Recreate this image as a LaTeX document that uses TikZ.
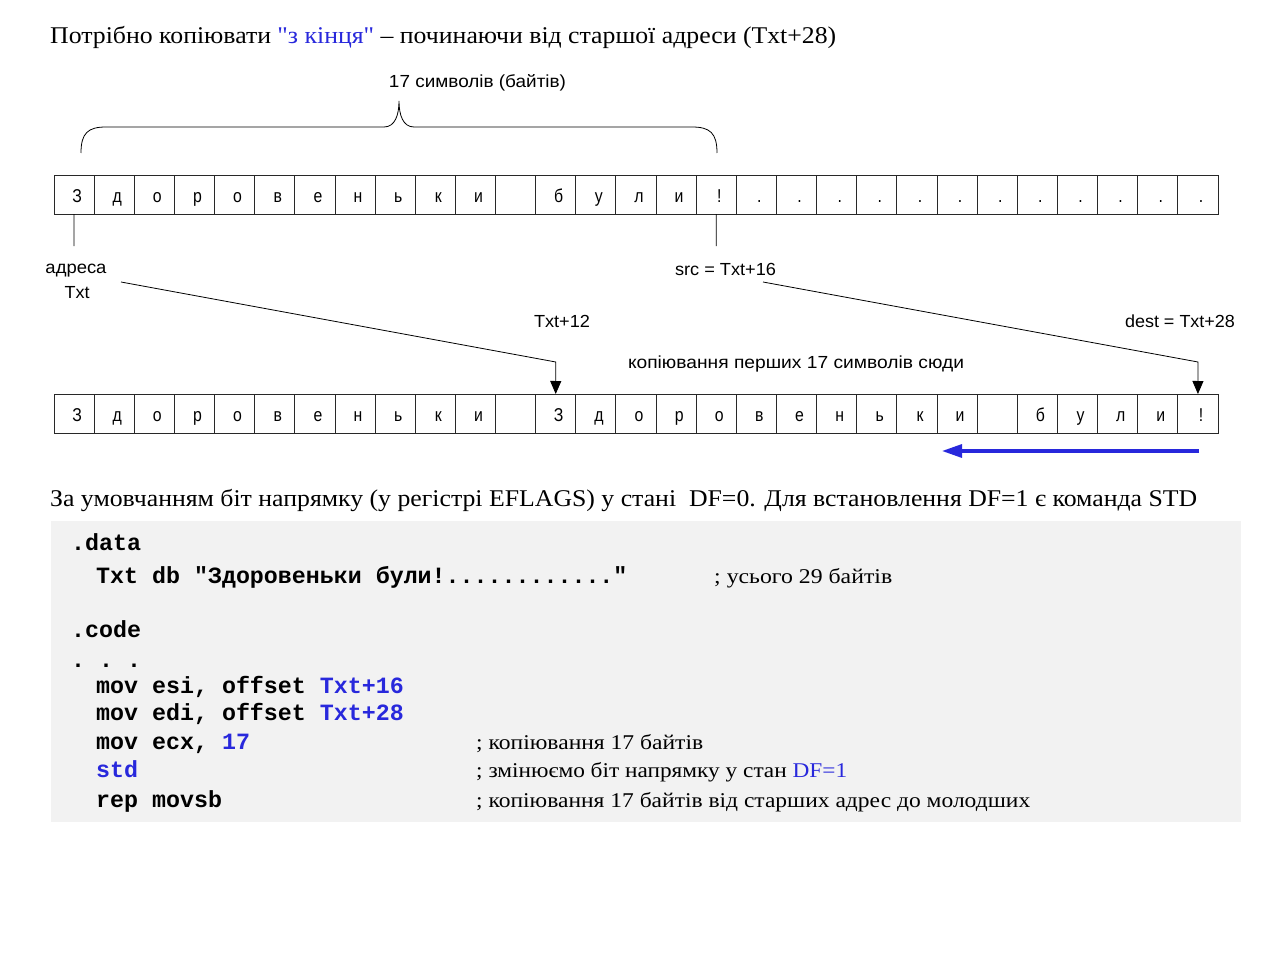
\documentclass[tikz,border=0pt]{standalone}
\usepackage{fontspec}
\setmainfont{Liberation Serif}
\newfontfamily\serq{Liberation Serif}
\newfontfamily\sansf{Liberation Sans}
\newfontfamily\monof{Liberation Mono}
\usetikzlibrary{arrows.meta}
\definecolor{cblue}{RGB}{40,40,220}
\definecolor{codebg}{RGB}{242,242,242}
\definecolor{cellline}{RGB}{40,40,40}
\newcommand{\fitw}[2]{\resizebox{#1pt}{\height}{#2}}
\newcommand{\cl}[1]{\hspace*{6pt}\scalebox{0.85}[1]{#1}}
\newcommand{\sq}{{\serq"}}
\begin{document}
\begin{tikzpicture}[x=1pt,y=-1pt,
  cell/.style={draw=cellline, line width=0.9pt, minimum width=40.138pt, minimum height=39pt,
    inner sep=0pt, outer sep=0pt, text height=15pt, text depth=0pt,
    font=\sansf\fontsize{18.6}{19}\selectfont},
  lbl/.style={inner sep=0pt, anchor=base, font=\sansf\fontsize{17.5}{18}\selectfont},
  ser/.style={inner sep=0pt, anchor=base west, font=\fontsize{24}{26}\selectfont},
  cmt/.style={inner sep=0pt, anchor=base west, font=\fontsize{21}{22}\selectfont},
  code/.style={inner sep=0pt, anchor=base west, font=\monof\bfseries\frenchspacing\fontsize{23.3}{24}\selectfont},
  conn/.style={draw=black, line width=0.8pt},
  tip/.style={-{Triangle[length=13pt,width=11pt]}}
]
\useasboundingbox (0,0) rectangle (1280,955);
\fill[white] (0,0) rectangle (1280,955);

% title
\node[ser] (title) at (50,44) {\fitw{786}{Потрібно копіювати \textcolor{cblue}{\sq з кінця\sq} -- починаючи від старшої адреси (Txt+28)}};

% brace
\draw[conn] (81,153) .. controls (81,133) and (88,127) .. (106,127) -- (384,127)
  .. controls (395,127) and (399,115) .. (399,101)
  .. controls (399,115) and (403,127) .. (414,127) -- (692,127)
  .. controls (710,127) and (717,133) .. (717,153);
\node[lbl] (cnt) at (477.5,88) {\fitw{177}{17 символів (байтів)}};

% row 1
\foreach \ch [count=\i from 0] in {З,д,о,р,о,в,е,н,ь,к,и,{},б,у,л,и,!,.,.,.,.,.,.,.,.,.,.,.,.}
  \node[cell] (r1c\i) at ({54+(\i+0.5)*40.138},194.5) {\cl{\ch}};

% row 2
\foreach \ch [count=\i from 0] in {З,д,о,р,о,в,е,н,ь,к,и,{},З,д,о,р,о,в,е,н,ь,к,и,{},б,у,л,и,!}
  \node[cell] (r2c\i) at ({54+(\i+0.5)*40.138},413.5) {\cl{\ch}};

% labels
\node[lbl] (adr) at (76,273) {\fitw{61}{адреса}};
\node[lbl] (txt) at (77,298) {\fitw{25}{Txt}};
\node[lbl] (src) at (725.5,275) {\fitw{101}{src = Txt+16}};
\node[lbl] (t12) at (562,327) {\fitw{56}{Txt+12}};
\node[lbl] (dst) at (1180,327) {\fitw{110}{dest = Txt+28}};
\node[lbl] (copy) at (796,368) {\fitw{336}{копіювання перших 17 символів сюди}};

% connectors
\coordinate (a0) at (74.07,246);
\coordinate (a16) at (716.3,246);
\draw[conn] (r1c0.south) -- (a0);
\draw[conn] (r1c16.south) -- (a16);

\coordinate (p1) at (121,282);
\coordinate (p2) at (555.8,362);
\draw[conn,tip] (p1) -- (p2) -- (r2c12.north);
\coordinate (q1) at (763,282);
\coordinate (q2) at (1198.0,362);
\draw[conn,tip] (q1) -- (q2) -- (r2c28.north);

% blue arrow
\coordinate (b1) at (1199,451);
\coordinate (b2) at (942,451);
\draw[cblue, line width=3.2pt, -{Triangle[length=20pt,width=13pt]}] (b1) -- (b2);

% line 2
\node[ser] (line2) at (50,506) {\fitw{1147}{За умовчанням біт напрямку (у регістрі EFLAGS) у стані\ \ DF=0. Для встановлення DF=1 є команда STD}};

% code box
\fill[codebg] (51,521) rectangle (1241,822);
\node[code] (c1) at (71,550) {.data};
\node[code] (c2) at (96,583) {Txt db "Здоровеньки були!............"};
\node[cmt]  (m2) at (714,583) {\fitw{178}{; усього 29 байтів}};
\node[code] (c3) at (71,637) {.code};
\node[code] (c4) at (71,667) {. . .};
\node[code] (c5) at (96,693) {mov esi, offset \textcolor{cblue}{Txt+16}};
\node[code] (c6) at (96,720) {mov edi, offset \textcolor{cblue}{Txt+28}};
\node[code] (c7) at (96,749) {mov ecx, \textcolor{cblue}{17}};
\node[cmt]  (m7) at (476,749) {\fitw{227}{; копіювання 17 байтів}};
\node[code] (c8) at (96,777) {\textcolor{cblue}{std}};
\node[cmt]  (m8) at (476,777) {\fitw{371}{; змінюємо біт напрямку у стан \textcolor{cblue}{DF=1}}};
\node[code] (c9) at (96,807) {rep movsb};
\node[cmt]  (m9) at (476,807) {\fitw{554}{; копіювання 17 байтів від старших адрес до молодших}};
\end{tikzpicture}
\end{document}
